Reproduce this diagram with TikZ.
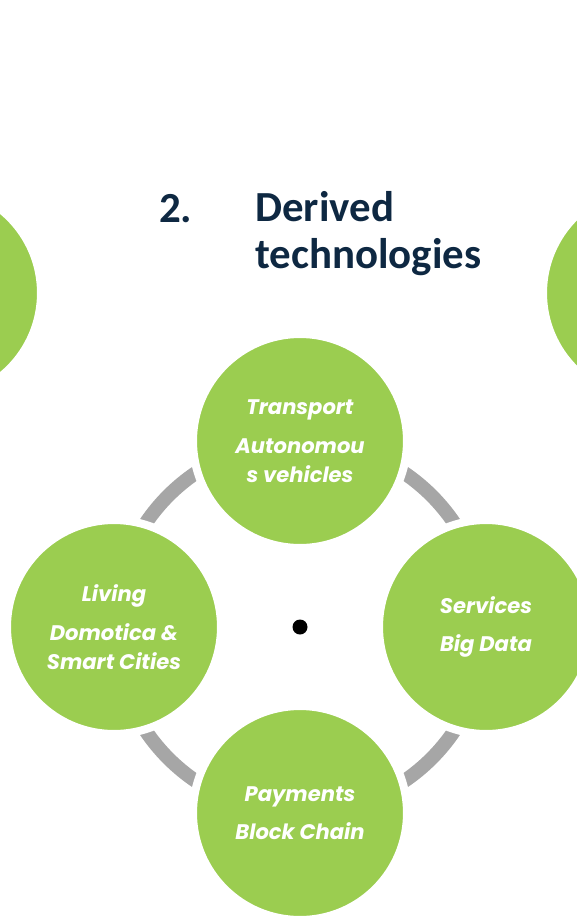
\documentclass[tikz,border=0pt]{standalone}
\usepackage{fontspec}
\setmainfont{Carlito}
\newfontfamily\bubblefont{Poppins}
\definecolor{leafgreen}{RGB}{155,205,80}
\definecolor{ringgray}{RGB}{166,166,166}
\definecolor{titlenavy}{RGB}{14,40,66}
\tikzset{
  bubble/.style={circle, fill=leafgreen, draw=white, line width=0.16cm,
    minimum size=4.28cm, inner sep=0pt, text=white, align=center,
    font=\bubblefont\bfseries\itshape\fontsize{12}{16.5}\selectfont},
  heading/.style={anchor=base west, text=titlenavy, align=left,
    font=\bfseries\fontsize{24.4}{26.2}\selectfont},
}
\begin{document}
\begin{tikzpicture}[x=0.02cm, y=-0.02cm]
    \useasboundingbox (0,0) rectangle (577,916);
    % heading
    \node[heading] (num) at (153,222) {2.};
    \node[heading] (title) at (249,268) {Derived\\technologies};
    % ring and hub
    \node[circle, fill=black, minimum size=0.3cm, inner sep=0pt] (hub) at (300,627) {};
    \draw[ringgray, line width=0.28cm] (hub.center) circle[radius=3.72cm];
    % neighbours cut off at the sides
    \node[bubble] (sideL) at (-66,293) {};
    \node[bubble] (sideR) at (650,293) {};
    % four bubbles
    \node[bubble] (transport) at (300,441) {Transport\\[6pt]Autonomou\\s vehicles};
    \node[bubble] (services) at (486,627) {Services\\[5pt]Big Data};
    \node[bubble] (payments) at (300,813) {Payments\\[5pt]Block Chain};
    \node[bubble] (living) at (114,627) {Living\\[6pt]Domotica \&\\Smart Cities};
\end{tikzpicture}
\end{document}
